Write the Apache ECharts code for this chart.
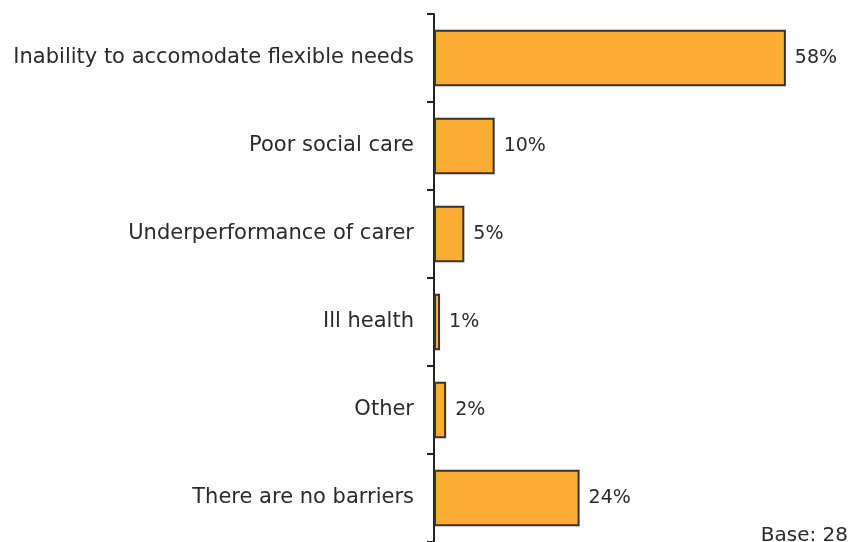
<!DOCTYPE html>
<html>
<head>
<meta charset="utf-8">
<script src="https://cdn.jsdelivr.net/npm/echarts@6/dist/echarts.min.js"></script>
<style>
  html, body { margin: 0; padding: 0; background: #fff; }
  #chart { width: 848px; height: 542px; }
</style>
</head>
<body>
<div id="chart"></div>
<script>
// Barriers reported, share of respondents (%)
const categories = [
  'Inability to accomodate flexible needs',
  'Poor social care',
  'Underperformance of carer',
  'Ill health',
  'Other',
  'There are no barriers'
];
const values = [58, 10, 5, 1, 2, 24];
const baseNote = 'Base: 28';

const FONT = '"DejaVu Sans", sans-serif';
const chart = echarts.init(document.getElementById('chart'));
chart.setOption({
  animation: false,
  grid: { left: 434, right: 50, top: 14, bottom: 0, containLabel: false },
  xAxis: {
    type: 'value',
    min: 0,
    max: 60,
    show: false
  },
  yAxis: {
    type: 'category',
    inverse: true,
    data: categories,
    axisLine: { show: true, lineStyle: { color: '#222', width: 2 } },
    axisTick: { show: true, length: 7, lineStyle: { color: '#222', width: 2 } },
    axisLabel: { color: '#2b2b2b', fontFamily: FONT, fontSize: 21, margin: 20 }
  },
  graphic: [{
    type: 'text',
    right: 0,
    top: 526,
    style: { text: baseNote, fill: '#2b2b2b', font: '20px ' + FONT }
  }],
  series: [{
    type: 'bar',
    data: values,
    barCategoryGap: '36%',
    itemStyle: { color: '#F9AE33', borderColor: '#333', borderWidth: 2 },
    label: {
      show: true,
      position: 'right',
      distance: 9,
      formatter: '{c}%',
      color: '#2b2b2b',
      fontFamily: FONT,
      fontSize: 19
    }
  }]
});
</script>
</body>
</html>
